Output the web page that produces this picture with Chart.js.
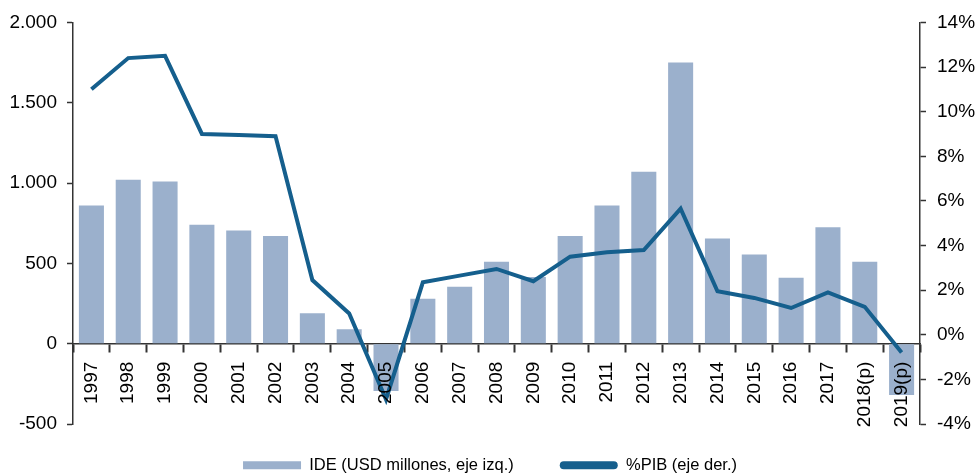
<!DOCTYPE html>
<html>
<head>
<meta charset="utf-8">
<script src="https://cdn.jsdelivr.net/npm/chart.js@4.4.1/dist/chart.umd.min.js"></script>
<style>
  html, body { margin: 0; padding: 0; background: #ffffff; }
  #wrap { width: 980px; height: 475px; }
</style>
</head>
<body>
<div id="wrap"><canvas id="c" width="980" height="475"></canvas></div>
<script>
const categories = ['1997','1998','1999','2000','2001','2002','2003','2004','2005','2006','2007','2008','2009','2010','2011','2012','2013','2014','2015','2016','2017','2018(p)','2019(p)'];
const ideValues = [860, 1020, 1010, 740, 705, 670, 190, 90, -295, 280, 355, 510, 415, 670, 860, 1070, 1750, 655, 555, 410, 725, 510, -320];
const pibValues = [11.0, 12.4, 12.5, 9.0, 8.95, 8.9, 2.45, 0.95, -2.9, 2.35, 2.65, 2.95, 2.4, 3.5, 3.7, 3.8, 5.65, 1.95, 1.65, 1.2, 1.9, 1.25, -0.8];
const seriesNames = ['IDE (USD millones, eje izq.)', '%PIB (eje der.)'];
const leftTicks = [-500, 0, 500, 1000, 1500, 2000];
const rightTicks = [-4, -2, 0, 2, 4, 6, 8, 10, 12, 14];

const BAR_COLOR = '#9bb0cc';
const LINE_COLOR = '#155f8d';
const AXIS_COLOR = '#333333';
const TICK_FONT = { family: '"Liberation Sans", Arial, sans-serif', size: 19 };
const LEGEND_FONT = { family: '"Liberation Sans", Arial, sans-serif', size: 16.5 };

function fmtThousands(v) {
  const neg = v < 0;
  let s = String(Math.abs(Math.round(v)));
  s = s.replace(/\B(?=(\d{3})+(?!\d))/g, '.');
  return (neg ? '-' : '') + s;
}

// move legend row up into the space under the x labels (keep its clip bottom at canvas edge)
const legendShift = {
  id: 'legendShift',
  afterLayout(chart) {
    const l = chart.legend;
    if (l) { l.top -= 13; }
  }
};

new Chart(document.getElementById('c'), {
  data: {
    labels: categories,
    datasets: [
      {
        type: 'bar',
        label: seriesNames[0],
        data: ideValues,
        backgroundColor: BAR_COLOR,
        borderWidth: 0,
        yAxisID: 'y',
        order: 2,
        categoryPercentage: 1.0,
        barPercentage: 0.68
      },
      {
        type: 'line',
        label: seriesNames[1],
        data: pibValues,
        borderColor: LINE_COLOR,
        backgroundColor: LINE_COLOR,
        borderWidth: 4,
        pointRadius: 0,
        pointHoverRadius: 0,
        tension: 0,
        fill: false,
        yAxisID: 'y1',
        order: 1
      }
    ]
  },
  options: {
    responsive: false,
    animation: false,
    devicePixelRatio: 1,
    layout: { padding: { top: 22, left: 0, right: 0, bottom: 0 } },
    plugins: {
      tooltip: { enabled: false },
      legend: {
        position: 'bottom',
        maxHeight: 51,
        labels: {
          font: LEGEND_FONT,
          color: '#000000',
          boxWidth: 58,
          boxHeight: 8,
          padding: 46,
          useBorderRadius: true,
          sort: (a, b) => a.datasetIndex - b.datasetIndex,
          generateLabels(chart) {
            const items = Chart.defaults.plugins.legend.labels.generateLabels(chart);
            items.forEach(it => {
              if (it.datasetIndex === 1) {
                it.fillStyle = LINE_COLOR;
                it.strokeStyle = LINE_COLOR;
                it.lineWidth = 0;
                it.borderRadius = 4;
              } else {
                it.fillStyle = BAR_COLOR;
                it.strokeStyle = BAR_COLOR;
                it.lineWidth = 0;
                it.borderRadius = 0;
              }
            });
            return items;
          }
        }
      }
    },
    scales: {
      x: {
        type: 'category',
        position: { y: 0 },
        offset: true,
        grid: {
          offset: true,
          drawOnChartArea: false,
          drawTicks: true,
          tickLength: 8,
          tickWidth: 2,
          color: AXIS_COLOR
        },
        border: { display: true, color: AXIS_COLOR, width: 1.5 },
        ticks: {
          z: 1,
          font: TICK_FONT,
          color: '#000000',
          minRotation: 90,
          maxRotation: 90,
          autoSkip: false,
          padding: 10
        }
      },
      y: {
        type: 'linear',
        position: 'left',
        min: -500,
        max: 2000,
        afterFit(s) { s.width = 73; },
        afterBuildTicks(s) { s.ticks = leftTicks.map(v => ({ value: v })); },
        grid: { drawOnChartArea: false, drawTicks: true, tickLength: 6, tickWidth: 1.5, color: AXIS_COLOR },
        border: { display: true, color: AXIS_COLOR, width: 1.5 },
        ticks: {
          font: TICK_FONT,
          color: '#000000',
          padding: 10,
          callback: v => fmtThousands(v)
        }
      },
      y1: {
        type: 'linear',
        position: 'right',
        min: -4,
        max: 14,
        afterFit(s) { s.width = 60; },
        afterBuildTicks(s) { s.ticks = rightTicks.map(v => ({ value: v })); },
        grid: { drawOnChartArea: false, drawTicks: true, tickLength: 6, tickWidth: 1.5, color: AXIS_COLOR },
        border: { display: true, color: AXIS_COLOR, width: 1.5 },
        ticks: {
          font: TICK_FONT,
          color: '#000000',
          padding: 11,
          callback: v => v + '%'
        }
      }
    }
  },
  plugins: [legendShift]
});
</script>
</body>
</html>
